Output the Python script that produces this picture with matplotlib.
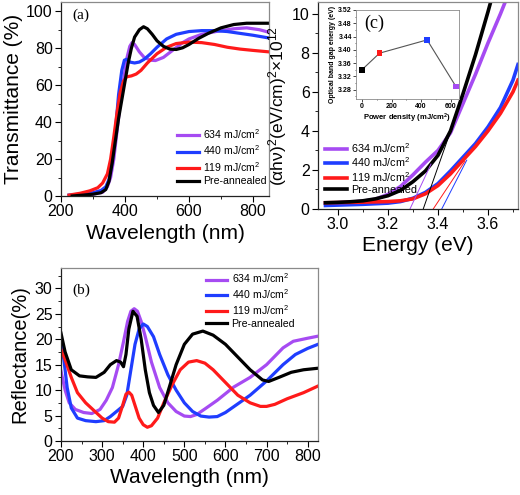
import matplotlib
matplotlib.use("Agg")
import matplotlib.pyplot as plt
from matplotlib.ticker import MultipleLocator

plt.rcParams['font.family'] = ['Liberation Sans', 'DejaVu Sans']
plt.rcParams['mathtext.fontset'] = 'custom'
plt.rcParams['mathtext.rm'] = 'Liberation Sans'
plt.rcParams['mathtext.it'] = 'Liberation Sans:italic'
plt.rcParams['mathtext.bf'] = 'Liberation Sans:bold'

C_PUR = '#A64BF2'
C_BLU = '#1F3DFF'
C_RED = '#FF1A1A'
C_BLK = '#000000'

labels = ['634 mJ/cm$^2$', '440 mJ/cm$^2$', '119 mJ/cm$^2$', 'Pre-annealed']

# ---------------- (a) Transmittance ----------------
ta_black_x = [235, 270, 300, 325, 340, 350, 360, 370, 380, 390, 400, 410, 420, 430, 445, 458, 470, 485, 500,
              520, 540, 560, 580, 600, 630, 660, 700, 740, 780, 820, 850]
ta_black_y = [0, 0.5, 1, 1.8, 3.5, 8, 18, 30, 42, 52, 62, 72, 80, 86, 90, 91.6, 90.5, 87.5, 84,
              81, 79.5, 79.3, 80.2, 82, 85.3, 88, 91, 92.8, 93.5, 93.5, 93.5]
ta_pur_x = [230, 270, 300, 330, 345, 355, 365, 375, 385, 395, 405, 415, 422, 430, 445, 460, 480, 495, 520,
            550, 580, 600, 640, 690, 740, 780, 820, 850]
ta_pur_y = [0, 0.5, 1, 2, 5, 10, 20, 35, 50, 62, 74, 81, 83, 82, 78, 75, 73.5, 73.3, 75,
            79, 83, 85, 87.5, 89.2, 90.5, 91, 90, 88.6]
ta_blu_x = [225, 260, 300, 325, 340, 350, 360, 370, 380, 390, 398, 405, 415, 430, 445, 460, 480, 500, 530,
            560, 600, 640, 680, 720, 760, 800, 850]
ta_blu_y = [0.5, 1, 1.8, 3, 5, 9, 18, 35, 55, 68, 73.5, 74, 72.5, 72, 72.5, 74, 77, 80.5, 85,
            87.5, 89, 89.5, 89.5, 89, 88, 87, 85.5]
ta_red_x = [225, 260, 290, 315, 330, 345, 355, 365, 375, 385, 395, 405, 420, 435, 450, 470, 500, 530, 560,
            600, 640, 680, 720, 760, 800, 850]
ta_red_y = [0.5, 1.5, 2.8, 4.5, 7, 12, 20, 32, 45, 56, 62, 64.5, 65, 66, 68, 72, 77, 80.5, 82.5,
            83.3, 83, 82, 80.5, 79.5, 78.8, 78]

# ---------------- (b) Reflectance ----------------
rb_black_x = [200, 210, 225, 245, 265, 285, 305, 320, 335, 345, 352, 358, 365, 375, 385, 395, 405, 415, 425,
              437, 450, 465, 480, 500, 520, 545, 570, 600, 630, 660, 690, 705, 730, 760, 790, 825]
rb_black_y = [21.2, 17.5, 14, 12.8, 12.6, 12.5, 13.5, 15, 15.8, 15.5, 14.6, 17, 22, 25.5, 24.5, 20, 14, 9.5, 7,
              5.6, 7, 11, 15, 19, 21, 21.6, 20.8, 19, 16.5, 14, 12, 11.7, 12.5, 13.5, 14, 14.3]
rb_pur_x = [200, 210, 220, 235, 255, 275, 295, 310, 325, 340, 352, 362, 370, 378, 386, 395, 405, 420, 440,
            460, 480, 500, 515, 530, 550, 580, 620, 660, 700, 740, 765, 800, 825]
rb_pur_y = [13.7, 10, 7.5, 6.2, 5.6, 5.4, 6.2, 8, 10.5, 15, 19.5, 23.5, 25.5, 26, 25.5, 23.5, 20.5, 15.5, 10.5,
            7.5, 5.8, 4.9, 4.8, 5.2, 6.3, 8.0, 10.6, 12.5, 15, 18.3, 19.6, 20.2, 20.6]
rb_blu_x = [200, 207, 215, 225, 240, 260, 285, 305, 320, 335, 350, 360, 370, 380, 390, 400, 410, 425, 440,
            460, 480, 500, 520, 540, 560, 580, 600, 630, 660, 700, 740, 770, 800, 825]
rb_blu_y = [19.5, 16, 10.5, 6.5, 4.5, 4, 3.8, 4, 4.8, 5.8, 6.8, 9, 14, 19, 22, 23, 22.5, 20.5, 17,
            13, 10, 7.5, 5.8, 4.9, 4.7, 4.8, 5.6, 7.3, 9, 11.8, 15, 17, 18.2, 19]
rb_red_x = [200, 210, 225, 240, 260, 280, 300, 315, 330, 340, 350, 358, 365, 372, 380, 390, 400, 410, 420,
            435, 450, 470, 490, 510, 530, 550, 570, 600, 630, 660, 685, 700, 720, 750, 790, 825]
rb_red_y = [18, 16, 12.5, 9.5, 7.5, 6, 4.5, 3.8, 3.7, 4.5, 7, 9.2, 9.6, 9, 7, 4.5, 3.2, 2.7, 3,
            4.5, 7.5, 11, 14, 15.5, 15.8, 15.3, 14, 11.5, 9, 7.5, 6.8, 6.8, 7.2, 8.3, 9.5, 10.8]

# ---------------- (c) Tauc plot ----------------
tc_black_x = [2.95, 3.0, 3.05, 3.1, 3.15, 3.2, 3.25, 3.3, 3.35, 3.4, 3.45, 3.5, 3.55, 3.6, 3.615]
tc_black_y = [0.32, 0.34, 0.37, 0.42, 0.52, 0.68, 0.95, 1.4, 1.95, 2.75, 4.0, 5.9, 7.9, 10.1, 10.8]
tc_pur_x = [2.95, 3.0, 3.05, 3.1, 3.15, 3.2, 3.25, 3.3, 3.35, 3.4, 3.45, 3.5, 3.55, 3.6, 3.65, 3.675]
tc_pur_y = [0.3, 0.32, 0.35, 0.4, 0.5, 0.75, 1.15, 1.75, 2.4, 3.0, 3.9, 5.4, 6.9, 8.5, 10.0, 10.8]
tc_blu_x = [2.95, 3.0, 3.1, 3.2, 3.25, 3.3, 3.35, 3.4, 3.45, 3.5, 3.55, 3.6, 3.65, 3.7, 3.72]
tc_blu_y = [0.18, 0.2, 0.24, 0.3, 0.38, 0.55, 0.85, 1.3, 1.95, 2.65, 3.35, 4.2, 5.2, 6.6, 7.4]
tc_red_x = [2.95, 3.0, 3.1, 3.2, 3.25, 3.3, 3.35, 3.4, 3.45, 3.5, 3.55, 3.6, 3.65, 3.7, 3.72]
tc_red_y = [0.32, 0.33, 0.35, 0.38, 0.42, 0.52, 0.78, 1.2, 1.8, 2.5, 3.2, 4.0, 4.9, 6.0, 6.6]

# tangent (linear fit) lines: start energy, end energy, end value  [purple, blue, red, black]
tan_e0 = [3.288, 3.415, 3.381, 3.341]
tan_e1 = [3.372, 3.515, 3.508, 3.448]
tan_v1 = [2.3, 2.5, 2.45, 3.9]

# inset: band gap vs power density
inset_power = [0, 119, 440, 634]
inset_gap = [3.34, 3.39, 3.43, 3.29]
inset_colors = [C_BLK, C_RED, C_BLU, C_PUR]

fig = plt.figure(figsize=(5.2, 4.95), dpi=100)

LW = 2.3
TICK_FS = 11.5
LAB_FS = 15
LEG_FS = 7.6


def style_axes(ax):
    ax.tick_params(which='major', direction='out', length=4, width=0.8, labelsize=TICK_FS, pad=2)
    ax.tick_params(which='minor', direction='out', length=2, width=0.6)
    ax.tick_params(top=False, right=False)
    for s in ['top', 'right']:
        ax.spines[s].set_color('#8a8a8a')
    for s in ['left', 'bottom']:
        ax.spines[s].set_color('#222222')
    for s in ax.spines.values():
        s.set_linewidth(0.9)


# (a)
ax_a = fig.add_axes([0.1173, 0.604, 0.400, 0.392])
ax_a.plot(ta_pur_x, ta_pur_y, color=C_PUR, lw=LW, label=labels[0])
ax_a.plot(ta_blu_x, ta_blu_y, color=C_BLU, lw=LW, label=labels[1])
ax_a.plot(ta_red_x, ta_red_y, color=C_RED, lw=LW, label=labels[2])
ax_a.plot(ta_black_x, ta_black_y, color=C_BLK, lw=LW, label=labels[3])
ax_a.set_xlim(200, 850)
ax_a.set_ylim(0, 105)
ax_a.xaxis.set_major_locator(MultipleLocator(200))
ax_a.xaxis.set_minor_locator(MultipleLocator(100))
ax_a.yaxis.set_major_locator(MultipleLocator(20))
ax_a.yaxis.set_minor_locator(MultipleLocator(10))
style_axes(ax_a)
ax_a.set_xlabel('Wavelength (nm)', fontsize=LAB_FS, labelpad=3)
ax_a.set_ylabel('Transmittance (%)', fontsize=LAB_FS, labelpad=2)
ax_a.text(0.055, 0.93, '(a)', transform=ax_a.transAxes, fontsize=11,
          family='Liberation Serif', va='center', ha='left')
ax_a.legend(loc='upper left', bbox_to_anchor=(0.56, 0.355), frameon=False, fontsize=LEG_FS,
            handlelength=2.0, handletextpad=0.4, labelspacing=0.25, borderpad=0, borderaxespad=0)

# (c)
ax_c = fig.add_axes([0.6115, 0.5778, 0.3846, 0.418])
ax_c.plot(tc_pur_x, tc_pur_y, color=C_PUR, lw=LW + 0.3, label=labels[0])
ax_c.plot(tc_blu_x, tc_blu_y, color=C_BLU, lw=LW + 0.3, label=labels[1])
ax_c.plot(tc_red_x, tc_red_y, color=C_RED, lw=LW + 0.3, label=labels[2])
ax_c.plot(tc_black_x, tc_black_y, color=C_BLK, lw=LW + 0.3, label=labels[3])
for e0, e1, v1, c in zip(tan_e0, tan_e1, tan_v1, [C_PUR, C_BLU, C_RED, C_BLK]):
    ax_c.plot([e0, e1], [0, v1], color=c, lw=0.7)
ax_c.set_xlim(2.92, 3.72)
ax_c.set_ylim(0, 10.6)
ax_c.xaxis.set_major_locator(MultipleLocator(0.2))
ax_c.xaxis.set_minor_locator(MultipleLocator(0.1))
ax_c.yaxis.set_major_locator(MultipleLocator(2))
ax_c.yaxis.set_minor_locator(MultipleLocator(1))
style_axes(ax_c)
ax_c.set_xlabel('Energy (eV)', fontsize=LAB_FS, labelpad=3)
ax_c.set_ylabel('(αhν)$^2$(eV/cm)$^2$×10$^{12}$', fontsize=12.5, labelpad=2)
ax_c.legend(loc='upper left', bbox_to_anchor=(0.035, 0.33), frameon=False, fontsize=LEG_FS + 0.2,
            handlelength=2.0, handletextpad=0.4, labelspacing=0.08, borderpad=0, borderaxespad=0)

# inset
ax_i = fig.add_axes([0.6846, 0.800, 0.198, 0.1798])
ax_i.plot(inset_power, inset_gap, color='#555555', lw=0.8, zorder=1)
ax_i.scatter(inset_power, inset_gap, c=inset_colors, marker='s', s=16, zorder=2, linewidths=0)
ax_i.set_xlim(-40, 655)
ax_i.set_ylim(3.252, 3.52)
ax_i.xaxis.set_major_locator(MultipleLocator(200))
ax_i.xaxis.set_minor_locator(MultipleLocator(100))
ax_i.yaxis.set_major_locator(MultipleLocator(0.04))
ax_i.yaxis.set_minor_locator(MultipleLocator(0.02))
ax_i.tick_params(which='major', direction='out', length=2, width=0.5, labelsize=5, pad=1)
ax_i.tick_params(which='minor', direction='out', length=1, width=0.4)
ax_i.yaxis.set_major_formatter(plt.FuncFormatter(lambda v, p: f'{v:.2f}'))
for lab in ax_i.get_xticklabels() + ax_i.get_yticklabels():
    lab.set_fontweight('bold')
for s in ax_i.spines.values():
    s.set_color('#8a8a8a')
    s.set_linewidth(0.6)
ax_i.set_xlabel('Power density (mJ/cm$^\\mathbf{2}$)', fontsize=5.5, fontweight='bold', labelpad=1)
ax_i.set_ylabel('Optical band gap energy (eV)', fontsize=5.0, fontweight='bold', labelpad=1.5)
ax_i.text(0.08, 0.85, '(c)', transform=ax_i.transAxes, fontsize=13,
          family='Liberation Serif', va='center', ha='left')

# (b)
ax_b = fig.add_axes([0.1173, 0.1091, 0.4942, 0.3495])
ax_b.plot(rb_pur_x, rb_pur_y, color=C_PUR, lw=LW, label=labels[0])
ax_b.plot(rb_blu_x, rb_blu_y, color=C_BLU, lw=LW, label=labels[1])
ax_b.plot(rb_red_x, rb_red_y, color=C_RED, lw=LW, label=labels[2])
ax_b.plot(rb_black_x, rb_black_y, color=C_BLK, lw=LW, label=labels[3])
ax_b.set_xlim(200, 825)
ax_b.set_ylim(0, 34)
ax_b.xaxis.set_major_locator(MultipleLocator(100))
ax_b.xaxis.set_minor_locator(MultipleLocator(50))
ax_b.yaxis.set_major_locator(MultipleLocator(5))
ax_b.yaxis.set_minor_locator(MultipleLocator(2.5))
style_axes(ax_b)
ax_b.set_xlabel('Wavelength (nm)', fontsize=LAB_FS, labelpad=3)
ax_b.set_ylabel('Reflectance(%)', fontsize=14.5, labelpad=4)
ax_b.text(0.045, 0.87, '(b)', transform=ax_b.transAxes, fontsize=11,
          family='Liberation Serif', va='center', ha='left')
ax_b.legend(loc='upper left', bbox_to_anchor=(0.565, 0.98), frameon=False, fontsize=LEG_FS,
            handlelength=2.0, handletextpad=0.4, labelspacing=0.2, borderpad=0, borderaxespad=0)

fig.savefig('out.png', dpi=100)
